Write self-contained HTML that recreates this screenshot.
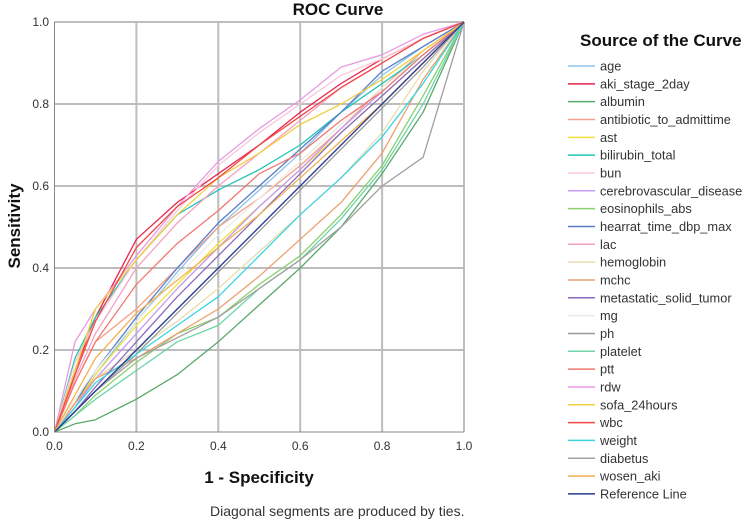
<!DOCTYPE html>
<html><head><meta charset="utf-8"><style>
body{margin:0;background:#fff;width:755px;height:521px;overflow:hidden;font-family:"Liberation Sans",sans-serif}
svg text{font-family:"Liberation Sans",sans-serif}
</style></head><body>
<svg id="chart" width="755" height="521" xmlns="http://www.w3.org/2000/svg">
<text x="338" y="15" font-size="17" font-weight="bold" text-anchor="middle" fill="#111">ROC Curve</text>
<g id="grid"></g><g id="series"></g><g id="axes"></g>
<text transform="translate(20,226) rotate(-90)" font-size="17" font-weight="bold" text-anchor="middle" fill="#111">Sensitivity</text>
<text x="259" y="483" font-size="17" font-weight="bold" text-anchor="middle" fill="#111">1 - Specificity</text>
<text x="210" y="516" font-size="14" fill="#333">Diagonal segments are produced by ties.</text>
<text x="580" y="46" font-size="17" font-weight="bold" fill="#111">Source of the Curve</text>
<g id="legend"></g>
</svg>
<script>
const ticks=[0,0.2,0.4,0.6,0.8,1.0];
const tickLabels=["0.0","0.2","0.4","0.6","0.8","1.0"];
const names=["age","aki_stage_2day","albumin","antibiotic_to_admittime","ast","bilirubin_total","bun","cerebrovascular_disease","eosinophils_abs","hearrat_time_dbp_max","lac","hemoglobin","mchc","metastatic_solid_tumor","mg","ph","platelet","ptt","rdw","sofa_24hours","wbc","weight","diabetus","wosen_aki","Reference Line"];
const colors=["#8ec3ea","#e8254d","#5aa86a","#f4a08a","#f2e13a","#23c4b8","#f8c8d8","#c59af0","#8ad06e","#5a7ec8","#f4a2c0","#e8dcb0","#eda070","#8a6ac0","#ecece4","#9a9a9a","#6ed4a8","#f07870","#e89ae0","#f0d040","#f04848","#3ad4e0","#a0a0a0","#f4b050","#2a3a90"];
const xs=[0,0.05,0.1,0.2,0.3,0.4,0.5,0.6,0.7,0.8,0.9,1];
const ys=[
[0,0.06,0.14,0.27,0.39,0.50,0.59,0.68,0.78,0.87,0.94,1],
[0,0.15,0.28,0.47,0.56,0.63,0.70,0.78,0.85,0.91,0.96,1],
[0,0.02,0.03,0.08,0.14,0.22,0.31,0.40,0.50,0.63,0.78,1],
[0,0.12,0.22,0.30,0.40,0.50,0.57,0.65,0.74,0.84,0.93,1],
[0,0.07,0.14,0.26,0.36,0.46,0.55,0.64,0.73,0.82,0.91,1],
[0,0.18,0.28,0.42,0.53,0.59,0.64,0.70,0.78,0.85,0.92,1],
[0,0.17,0.27,0.42,0.54,0.65,0.73,0.80,0.87,0.91,0.96,1],
[0,0.06,0.13,0.24,0.35,0.45,0.55,0.64,0.74,0.83,0.92,1],
[0,0.04,0.09,0.17,0.24,0.28,0.36,0.43,0.53,0.65,0.82,1],
[0,0.07,0.15,0.28,0.40,0.51,0.60,0.69,0.78,0.88,0.94,1],
[0,0.13,0.24,0.40,0.51,0.60,0.68,0.76,0.84,0.90,0.96,1],
[0,0.07,0.13,0.20,0.27,0.35,0.44,0.53,0.62,0.73,0.88,1],
[0,0.07,0.13,0.18,0.24,0.30,0.38,0.47,0.56,0.68,0.86,1],
[0,0.05,0.11,0.22,0.33,0.43,0.53,0.63,0.73,0.82,0.91,1],
[0,0.08,0.15,0.27,0.38,0.48,0.57,0.66,0.75,0.84,0.92,1],
[0,0.05,0.10,0.19,0.29,0.39,0.49,0.59,0.69,0.79,0.89,1],
[0,0.04,0.08,0.15,0.22,0.26,0.35,0.42,0.52,0.64,0.80,1],
[0,0.12,0.22,0.36,0.46,0.54,0.63,0.68,0.76,0.83,0.92,1],
[0,0.22,0.30,0.43,0.55,0.66,0.74,0.81,0.89,0.92,0.97,1],
[0,0.15,0.30,0.42,0.53,0.62,0.68,0.75,0.80,0.86,0.93,1],
[0,0.14,0.27,0.45,0.55,0.62,0.70,0.77,0.84,0.90,0.96,1],
[0,0.06,0.12,0.19,0.26,0.33,0.43,0.53,0.62,0.72,0.85,1],
[0,0.05,0.10,0.18,0.23,0.28,0.35,0.42,0.50,0.60,0.67,1],
[0,0.09,0.18,0.29,0.37,0.45,0.53,0.62,0.71,0.80,0.90,1],
[0,0.05,0.1,0.2,0.3,0.4,0.5,0.6,0.7,0.8,0.9,1]
];
const NS="http://www.w3.org/2000/svg";
const X=v=>54.5+v*409.5, Y=v=>432-v*410;
function mk(t,a,p){const e=document.createElementNS(NS,t);for(const k in a)e.setAttribute(k,a[k]);p.appendChild(e);return e;}
const grid=document.getElementById('grid'),axes=document.getElementById('axes'),ser=document.getElementById('series'),leg=document.getElementById('legend');
ticks.forEach((t,i)=>{
 if(t>0){let g=mk('line',{x1:X(t),x2:X(t),y1:Y(0),y2:Y(1),stroke:'#bdbdbd','stroke-width':2},grid);
 
 let h=mk('line',{x1:X(0),x2:X(1),y1:Y(t),y2:Y(t),stroke:'#bdbdbd','stroke-width':2},grid);
 }
 let xl=mk('text',{x:X(t),y:450,'font-size':12,'text-anchor':'middle',fill:'#333'},axes);xl.textContent=tickLabels[i];
 
 let yl=mk('text',{x:49,y:Y(t)+4,'font-size':12,'text-anchor':'end',fill:'#333'},axes);yl.textContent=tickLabels[i];
 
});
let ax=mk('path',{d:`M${X(0)},${Y(1)}V${Y(0)}H${X(1)}`,stroke:'#888',fill:'none','stroke-width':1},axes);

ys.forEach((s,i)=>{
 let d=s.map((v,j)=>(j?'L':'M')+X(xs[j]).toFixed(1)+','+Y(v).toFixed(1)).join('');
 let p=mk('path',{d:d,stroke:colors[i],fill:'none','stroke-width':1.3,'stroke-linejoin':'round'},ser);
 
 
 let yy=66+i*17.83;
 let g=mk('g',{},leg);
 
 
 mk('line',{x1:568,x2:595,y1:yy,y2:yy,stroke:colors[i],'stroke-width':1.5},g);
 let t=mk('text',{x:600,y:yy+4.5,'font-size':12.8,fill:'#333'},g);t.textContent=names[i];
});
</script>
</body></html>
